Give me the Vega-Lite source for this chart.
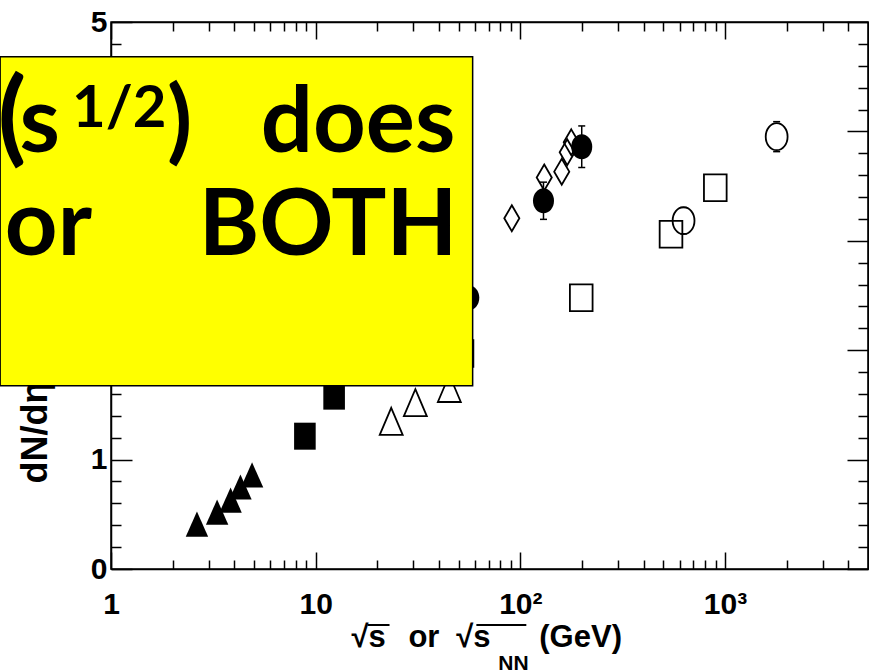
{
  "$schema": "https://vega.github.io/schema/vega-lite/v6.json",
  "width": 757,
  "height": 547,
  "autosize": "none",
  "padding": {"left": 111, "top": 22, "right": 1, "bottom": 103},
  "background": "white",
  "config": {
    "view": {"stroke": "black", "strokeWidth": 1.5},
    "axis": {
      "domainColor": "black", "domainWidth": 1.5, "tickColor": "black", "tickWidth": 1.5,
      "grid": false, "labelColor": "black", "labelFont": "Liberation Sans", "labelFontWeight": "bold",
      "labelFontSize": 30, "labelOverlap": false, "labelFlush": false, "labelBound": false, "titleColor": "black"
    }
  },
  "datasets": {
    "pts": [
      {"sqrts": 2.63, "val": 0.41, "series": "AGS"},
      {"sqrts": 3.30, "val": 0.52, "series": "AGS"},
      {"sqrts": 3.84, "val": 0.63, "series": "AGS"},
      {"sqrts": 4.29, "val": 0.75, "series": "AGS"},
      {"sqrts": 4.89, "val": 0.86, "series": "AGS"},
      {"sqrts": 8.86, "val": 1.214, "series": "SPS"},
      {"sqrts": 12.31, "val": 1.58, "series": "SPS"},
      {"sqrts": 23.4, "val": 1.35, "series": "ISR"},
      {"sqrts": 30.7, "val": 1.52, "series": "ISR"},
      {"sqrts": 45.0, "val": 1.65, "series": "ISR"},
      {"sqrts": 51.9, "val": 1.97, "series": "SppS"},
      {"sqrts": 198.5, "val": 2.48, "series": "SppS"},
      {"sqrts": 545, "val": 3.06, "series": "SppS"},
      {"sqrts": 897, "val": 3.485, "series": "SppS"},
      {"sqrts": 90.9, "val": 3.206, "series": "PHOBOS"},
      {"sqrts": 130.9, "val": 3.579, "series": "PHOBOS"},
      {"sqrts": 159.4, "val": 3.632, "series": "PHOBOS"},
      {"sqrts": 169.5, "val": 3.81, "series": "PHOBOS"},
      {"sqrts": 177.4, "val": 3.90, "series": "PHOBOS"},
      {"sqrts": 56, "val": 2.48, "lo": 2.33, "hi": 2.63, "series": "RHIC"},
      {"sqrts": 129.8, "val": 3.366, "lo": 3.196, "hi": 3.536, "series": "RHIC"},
      {"sqrts": 199.6, "val": 3.86, "lo": 3.67, "hi": 4.05, "series": "RHIC"},
      {"sqrts": 627.7, "val": 3.184, "lo": 3.064, "hi": 3.304, "series": "Tevatron"},
      {"sqrts": 1789, "val": 3.952, "lo": 3.815, "hi": 4.089, "series": "Tevatron"}
    ]
  },
  "layer": [
    {
      "data": {"name": "pts"},
      "transform": [{"filter": "datum.series == 'RHIC'"}],
      "mark": {"type": "rule", "color": "black", "strokeWidth": 1.5, "clip": false},
      "encoding": {
        "x": {"field": "sqrts", "type": "quantitative", "scale": {"type": "log", "domain": [1, 5000], "nice": false},
          "axis": {
            "orient": "bottom", "title": null,
            "values": [1,2,3,4,5,6,7,8,9,10,20,30,40,50,60,70,80,90,100,200,300,400,500,600,700,800,900,1000,2000,3000,4000],
            "labelExpr": "datum.value == 1 ? '1' : datum.value == 10 ? '10' : datum.value == 100 ? '10²' : datum.value == 1000 ? '10³' : ''",
            "tickSize": {"condition": {"test": "datum.value == 1 || datum.value == 10 || datum.value == 100 || datum.value == 1000", "value": -17}, "value": -9},
            "labelPadding": 37
          }
        },
        "y": {"field": "lo", "type": "quantitative", "scale": {"domain": [0, 5], "nice": false, "zero": false},
          "axis": {
            "orient": "left",
            "values": [0,0.2,0.4,0.6,0.8,1,1.2,1.4,1.6,1.8,2,2.2,2.4,2.6,2.8,3,3.2,3.4,3.6,3.8,4,4.2,4.4,4.6,4.8,5],
            "labelExpr": "abs(datum.value - round(datum.value)) < 0.001 ? format(datum.value, 'd') : ''",
            "tickSize": {"condition": {"test": "abs(datum.value - round(datum.value)) < 0.001", "value": -21}, "value": -10},
            "labelPadding": 25,
            "title": "dN/dη/(0.5 N_part)",
            "titleFont": "Liberation Sans", "titleFontWeight": "bold", "titleFontSize": 36,
            "titleAngle": 270, "titleAlign": "left", "titleBaseline": "alphabetic",
            "titleX": -65, "titleY": 461
          }
        },
        "y2": {"field": "hi"}
      }
    },
    {
      "data": {"name": "pts"},
      "transform": [{"filter": "isValid(datum.lo)"}],
      "mark": {"type": "tick", "orient": "horizontal", "color": "black", "size": 7, "thickness": 1.5, "opacity": 1, "clip": false},
      "encoding": {
        "x": {"field": "sqrts", "type": "quantitative", "scale": {"type": "log", "domain": [1, 5000], "nice": false}, "axis": null},
        "y": {"field": "lo", "type": "quantitative", "scale": {"domain": [0, 5], "nice": false}, "axis": null}
      }
    },
    {
      "data": {"name": "pts"},
      "transform": [{"filter": "isValid(datum.hi)"}],
      "mark": {"type": "tick", "orient": "horizontal", "color": "black", "size": 7, "thickness": 1.5, "opacity": 1, "clip": false},
      "encoding": {
        "x": {"field": "sqrts", "type": "quantitative", "scale": {"type": "log", "domain": [1, 5000], "nice": false}, "axis": null},
        "y": {"field": "hi", "type": "quantitative", "scale": {"domain": [0, 5], "nice": false}, "axis": null}
      }
    },
    {
      "data": {"name": "pts"},
      "transform": [{"filter": "datum.series == 'ISR' || datum.series == 'SppS' || datum.series == 'PHOBOS' || datum.series == 'Tevatron'"}],
      "mark": {"type": "point", "filled": false, "color": "black", "strokeWidth": 1.8, "opacity": 1, "size": 729, "clip": false},
      "encoding": {
        "x": {"field": "sqrts", "type": "quantitative", "scale": {"type": "log", "domain": [1, 5000], "nice": false}, "axis": null},
        "y": {"field": "val", "type": "quantitative", "scale": {"domain": [0, 5], "nice": false}, "axis": null},
        "shape": {"field": "series", "type": "nominal", "legend": null,
          "scale": {
            "domain": ["AGS", "SPS", "RHIC", "PHOBOS", "ISR", "SppS", "Tevatron"],
            "range": [
              "M0,-0.93L0.83,0.93L-0.83,0.93Z",
              "M-0.8,-1H0.8V1H-0.8Z",
              "M0,-0.93A0.78,0.93,0,1,1,0,0.93A0.78,0.93,0,1,1,0,-0.93Z",
              "M0,-0.96L0.56,0L0,0.96L-0.56,0Z",
              "M0,-1L0.85,1L-0.85,1Z",
              "M-0.84,-0.99H0.84V0.99H-0.84Z",
              "M0,-1A0.81,1,0,1,1,0,1A0.81,1,0,1,1,0,-1Z"
            ]
          }
        }
      }
    },
    {
      "data": {"name": "pts"},
      "transform": [{"filter": "datum.series == 'AGS' || datum.series == 'SPS' || datum.series == 'RHIC'"}],
      "mark": {"type": "point", "filled": true, "color": "black", "opacity": 1, "size": 729, "clip": false},
      "encoding": {
        "x": {"field": "sqrts", "type": "quantitative", "scale": {"type": "log", "domain": [1, 5000], "nice": false},
          "axis": {
            "orient": "top", "title": null, "labels": false,
            "values": [1,2,3,4,5,6,7,8,9,10,20,30,40,50,60,70,80,90,100,200,300,400,500,600,700,800,900,1000,2000,3000,4000],
            "tickSize": {"condition": {"test": "datum.value == 1 || datum.value == 10 || datum.value == 100 || datum.value == 1000", "value": -17}, "value": -9}
          }
        },
        "y": {"field": "val", "type": "quantitative", "scale": {"domain": [0, 5], "nice": false},
          "axis": {
            "orient": "right", "title": null, "labels": false,
            "values": [0,0.2,0.4,0.6,0.8,1,1.2,1.4,1.6,1.8,2,2.2,2.4,2.6,2.8,3,3.2,3.4,3.6,3.8,4,4.2,4.4,4.6,4.8,5],
            "tickSize": {"condition": {"test": "abs(datum.value - round(datum.value)) < 0.001", "value": -21}, "value": -10}
          }
        },
        "shape": {"field": "series", "type": "nominal", "legend": null}
      }
    },
    {
      "data": {"values": [{"x": 0.2873, "x2": 58.5, "y": 4.683, "y2": 1.6755}]},
      "mark": {"type": "rect", "fill": "#ffff00", "stroke": "black", "strokeWidth": 1.5, "clip": false},
      "encoding": {
        "x": {"field": "x", "type": "quantitative", "scale": {"type": "log", "domain": [1, 5000], "nice": false}, "axis": null},
        "x2": {"field": "x2"},
        "y": {"field": "y", "type": "quantitative", "scale": {"domain": [0, 5], "nice": false}, "axis": null},
        "y2": {"field": "y2"}
      }
    },
    {
      "data": {"values": [
        {"t": "(", "x": 0.2793, "y": 3.815}
      ]},
      "mark": {"type": "text", "align": "left", "baseline": "alphabetic", "font": "Lato", "fontWeight": "bold", "fontSize": 104, "color": "black", "clip": false},
      "encoding": {
        "x": {"field": "x", "type": "quantitative", "scale": {"type": "log", "domain": [1, 5000], "nice": false}, "axis": null},
        "y": {"field": "y", "type": "quantitative", "scale": {"domain": [0, 5], "nice": false}, "axis": null},
        "text": {"field": "t"}
      }
    },
    {
      "data": {"values": [
        {"t": "s", "x": 0.3567, "y": 3.815},
        {"t": ")", "x": 1.876, "y": 3.815},
        {"t": "or", "x": 0.3027, "y": 2.870}
      ]},
      "mark": {"type": "text", "align": "left", "baseline": "alphabetic", "font": "Lato", "fontWeight": "bold", "fontSize": 92, "color": "black", "clip": false},
      "encoding": {
        "x": {"field": "x", "type": "quantitative", "scale": {"type": "log", "domain": [1, 5000], "nice": false}, "axis": null},
        "y": {"field": "y", "type": "quantitative", "scale": {"domain": [0, 5], "nice": false}, "axis": null},
        "text": {"field": "t"}
      }
    },
    {
      "data": {"values": [
        {"t": "does", "x": 48.2, "y": 3.815},
        {"t": "BOTH", "x": 49.3, "y": 2.870}
      ]},
      "mark": {"type": "text", "align": "right", "baseline": "alphabetic", "font": "Lato", "fontWeight": "bold", "fontSize": 92, "color": "black", "clip": false},
      "encoding": {
        "x": {"field": "x", "type": "quantitative", "scale": {"type": "log", "domain": [1, 5000], "nice": false}, "axis": null},
        "y": {"field": "y", "type": "quantitative", "scale": {"domain": [0, 5], "nice": false}, "axis": null},
        "text": {"field": "t"}
      }
    },
    {
      "data": {"values": [{"t": "1/2", "x": 0.645, "y": 4.043}]},
      "mark": {"type": "text", "align": "left", "baseline": "alphabetic", "font": "Lato", "fontWeight": "bold", "fontSize": 58, "color": "black", "clip": false},
      "encoding": {
        "x": {"field": "x", "type": "quantitative", "scale": {"type": "log", "domain": [1, 5000], "nice": false}, "axis": null},
        "y": {"field": "y", "type": "quantitative", "scale": {"domain": [0, 5], "nice": false}, "axis": null},
        "text": {"field": "t"}
      }
    },
    {
      "data": {"values": [
        {"t": "√s", "x": 14.98, "y": -0.713},
        {"t": "or", "x": 28.4, "y": -0.713},
        {"t": "√s", "x": 48.7, "y": -0.713},
        {"t": "(GeV)", "x": 123.8, "y": -0.713}
      ]},
      "mark": {"type": "text", "align": "left", "baseline": "alphabetic", "font": "Liberation Sans", "fontWeight": "bold", "fontSize": 31, "color": "black", "clip": false},
      "encoding": {
        "x": {"field": "x", "type": "quantitative", "scale": {"type": "log", "domain": [1, 5000], "nice": false}, "axis": null},
        "y": {"field": "y", "type": "quantitative", "scale": {"domain": [0, 5], "nice": false}, "axis": null},
        "text": {"field": "t"}
      }
    },
    {
      "data": {"values": [{"t": "NN", "x": 78.1, "y": -0.92}]},
      "mark": {"type": "text", "align": "left", "baseline": "alphabetic", "font": "Liberation Sans", "fontWeight": "bold", "fontSize": 21, "color": "black", "clip": false},
      "encoding": {
        "x": {"field": "x", "type": "quantitative", "scale": {"type": "log", "domain": [1, 5000], "nice": false}, "axis": null},
        "y": {"field": "y", "type": "quantitative", "scale": {"domain": [0, 5], "nice": false}, "axis": null},
        "text": {"field": "t"}
      }
    },
    {
      "data": {"values": [
        {"x": 17.93, "x2": 22.96, "y": -0.512},
        {"x": 61.0, "x2": 107.0, "y": -0.512}
      ]},
      "mark": {"type": "rule", "color": "black", "strokeWidth": 2, "clip": false},
      "encoding": {
        "x": {"field": "x", "type": "quantitative", "scale": {"type": "log", "domain": [1, 5000], "nice": false}, "axis": null},
        "x2": {"field": "x2"},
        "y": {"field": "y", "type": "quantitative", "scale": {"domain": [0, 5], "nice": false}, "axis": null}
      }
    }
  ],
  "resolve": {"axis": {"x": "independent", "y": "independent"}}
}
